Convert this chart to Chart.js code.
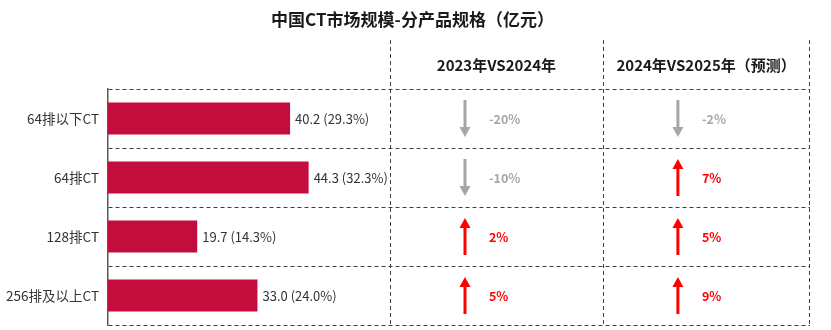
<!DOCTYPE html>
<html>
<head>
<meta charset="utf-8">
<script src="https://cdn.jsdelivr.net/npm/chart.js"></script>
<style>
  html, body { margin: 0; padding: 0; background: #ffffff; }
  #wrap { width: 831px; height: 330px; position: relative; }
</style>
</head>
<body>
<div id="wrap"><canvas id="ctChart"></canvas></div>
<script>
// data
const chartTitle = '中国CT市场规模-分产品规格（亿元）';
const categories = ['64排以下CT', '64排CT', '128排CT', '256排及以上CT'];
const marketSize = [40.2, 44.3, 19.7, 33.0];      // 亿元
const marketShare = [29.3, 32.3, 14.3, 24.0];     // %
const columnHeaders = ['2023年VS2024年', '2024年VS2025年（预测）'];
const growth2024 = [-20, -10, 2, 5];              // %
const growth2025 = [-2, 7, 5, 9];                 // %

const FONT = '"Noto Sans CJK SC", "Noto Sans", sans-serif';
const BAR_COLOR = '#c30d3c';
const UP_COLOR = '#ff0000';
const DOWN_COLOR = '#a6a6a6';

// the comparison table sits inside the right part of the chart area
const tableCols = [
    { from: 0.4017, to: 0.705, values: growth2024 },
    { from: 0.705, to: 0.999, values: growth2025 }
];

function drawArrow(ctx, x, yc, up, color) {
    const len = 37, head = 10, half = 5.5;
    const top = yc - len / 2, bottom = yc + len / 2;
    ctx.save();
    ctx.strokeStyle = color;
    ctx.fillStyle = color;
    ctx.lineWidth = 3;
    ctx.beginPath();
    if (up) {
        ctx.moveTo(x, bottom);
        ctx.lineTo(x, top + head - 1);
    } else {
        ctx.moveTo(x, top);
        ctx.lineTo(x, bottom - head + 1);
    }
    ctx.stroke();
    ctx.beginPath();
    if (up) {
        ctx.moveTo(x, top);
        ctx.lineTo(x - half, top + head);
        ctx.lineTo(x + half, top + head);
    } else {
        ctx.moveTo(x, bottom);
        ctx.lineTo(x - half, bottom - head);
        ctx.lineTo(x + half, bottom - head);
    }
    ctx.closePath();
    ctx.fill();
    ctx.restore();
}

// value labels at the end of each bar
const barLabels = {
    id: 'barLabels',
    afterDatasetsDraw(chart) {
        const ctx = chart.ctx;
        const meta = chart.getDatasetMeta(0);
        ctx.save();
        ctx.font = '13px ' + FONT;
        ctx.fillStyle = '#333333';
        ctx.textAlign = 'left';
        ctx.textBaseline = 'middle';
        meta.data.forEach((bar, i) => {
            const txt = marketSize[i].toFixed(1) + ' (' + marketShare[i].toFixed(1) + '%)';
            ctx.fillText(txt, bar.x + 5, bar.y + 1);
        });
        ctx.restore();
    }
};

// title, dashed table columns, headers, arrows and growth figures
const growthTable = {
    id: 'growthTable',
    afterDraw(chart) {
        const ctx = chart.ctx;
        const area = chart.chartArea;
        const yScale = chart.scales.y;
        const w = area.right - area.left;
        const tableTop = 40;

        ctx.save();
        ctx.font = 'bold 17px ' + FONT;
        ctx.fillStyle = '#1a1a1a';
        ctx.textAlign = 'center';
        ctx.textBaseline = 'middle';
        ctx.fillText(chartTitle, chart.width / 2 - 3, 20);
        ctx.restore();

        ctx.save();
        ctx.strokeStyle = '#404040';
        ctx.lineWidth = 1;
        ctx.setLineDash([4, 3]);
        const edges = [tableCols[0].from, tableCols[0].to, tableCols[1].to];
        edges.forEach(f => {
            const x = Math.round(area.left + f * w) + 0.5;
            ctx.beginPath();
            ctx.moveTo(x, tableTop);
            ctx.lineTo(x, area.bottom);
            ctx.stroke();
        });
        ctx.restore();

        tableCols.forEach((col, c) => {
            const left = area.left + col.from * w;
            const right = area.left + col.to * w;
            ctx.save();
            ctx.font = 'bold 15px ' + FONT;
            ctx.fillStyle = '#1a1a1a';
            ctx.textAlign = 'center';
            ctx.textBaseline = 'middle';
            ctx.fillText(columnHeaders[c], (left + right) / 2, (tableTop + area.top) / 2 + 1);
            ctx.restore();

            col.values.forEach((v, i) => {
                const yc = yScale.getPixelForValue(i);
                const up = v > 0;
                const color = up ? UP_COLOR : DOWN_COLOR;
                drawArrow(ctx, left + 75, yc, up, color);
                ctx.save();
                ctx.font = 'bold 12.5px ' + FONT;
                ctx.fillStyle = color;
                ctx.textAlign = 'left';
                ctx.textBaseline = 'middle';
                ctx.fillText(v + '%', left + 99, yc + 1);
                ctx.restore();
            });
        });
    }
};

function initializeChart() {
    const ctx = document.getElementById('ctChart').getContext('2d');
    return new Chart(ctx, {
        type: 'bar',
        data: {
            labels: categories,
            datasets: [{
                label: '市场规模（亿元）',
                data: marketSize,
                backgroundColor: BAR_COLOR,
                borderWidth: 0,
                barPercentage: 0.54,
                categoryPercentage: 1
            }]
        },
        options: {
            indexAxis: 'y',
            responsive: true,
            maintainAspectRatio: false,
            animation: false,
            layout: {
                padding: { left: 2, right: 21, top: 89, bottom: 5 }
            },
            scales: {
                x: {
                    display: false,
                    min: 0,
                    max: 155
                },
                y: {
                    afterFit: scale => {
                        scale.width = 106;
                        scale.paddingTop = 0;
                        scale.paddingBottom = 0;
                    },
                    grid: {
                        color: '#404040',
                        lineWidth: 1,
                        drawTicks: false,
                        offset: true
                    },
                    border: {
                        display: true,
                        color: '#595959',
                        width: 1.5,
                        dash: [4, 3]
                    },
                    ticks: {
                        padding: 9,
                        color: '#333333',
                        font: { family: FONT, size: 13.5 }
                    }
                }
            },
            plugins: {
                legend: { display: false },
                tooltip: { enabled: false },
                title: { display: false }
            }
        },
        plugins: [barLabels, growthTable]
    });
}

document.addEventListener('DOMContentLoaded', function() {
    initializeChart();
});
</script>
</body>
</html>
